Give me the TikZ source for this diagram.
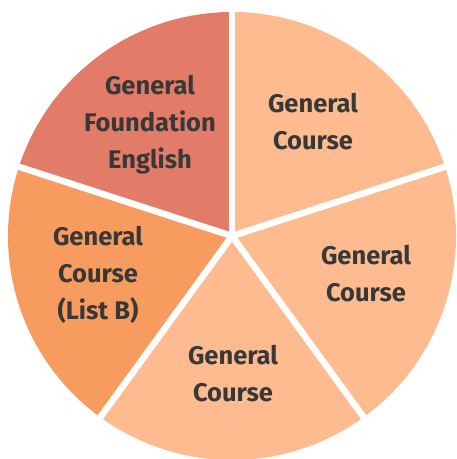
\documentclass[tikz,border=0pt]{standalone}
\usepackage{fontspec}
\setmainfont{Fira Sans}
\usetikzlibrary{calc}
\definecolor{slicedark}{HTML}{E27B67}
\definecolor{sliceorange}{HTML}{F89B5E}
\definecolor{slicelight}{HTML}{FEBB8F}
\definecolor{labeltext}{HTML}{383838}
\begin{document}
\begin{tikzpicture}[x=1pt,y=1pt,
  lbl/.style={text=labeltext, font=\fontsize{25.5}{37}\selectfont\bfseries, align=center},
  gap/.style={white, line width=6.5pt}]
\useasboundingbox (0,0) rectangle (457,459);
\coordinate (c) at (232,223);
\def\R{224}
\fill[slicelight] (c) -- ++(90:\R) arc[start angle=90, end angle=18, radius=\R] -- cycle;
\fill[slicelight] (c) -- ++(18:\R) arc[start angle=18, end angle=-54, radius=\R] -- cycle;
\fill[slicelight] (c) -- ++(-54:\R) arc[start angle=-54, end angle=-126, radius=\R] -- cycle;
\fill[sliceorange] (c) -- ++(234:\R) arc[start angle=234, end angle=162, radius=\R] -- cycle;
\fill[slicedark] (c) -- ++(162:\R) arc[start angle=162, end angle=90, radius=\R] -- cycle;
\foreach \a/\n in {90/a,18/b,-54/d,234/e,162/f}{
  \coordinate (e\n) at ($(c)+(\a:\R+3)$);
}
\draw[gap] (c) -- (ea);
\draw[gap] (c) -- (eb);
\draw[gap] (c) -- (ed);
\draw[gap] (c) -- (ee);
\draw[gap] (c) -- (ef);
\node[lbl] (gfe) at (150,334) {General\\Foundation\\English};
\node[lbl] (gc1) at (313,337) {General\\Course};
\node[lbl] (gc2) at (366,185) {General\\Course};
\node[lbl] (gc3) at (233,85) {General\\Course};
\node[lbl] (gcb) at (98,184) {General\\Course\\(List B)};
\end{tikzpicture}
\end{document}
